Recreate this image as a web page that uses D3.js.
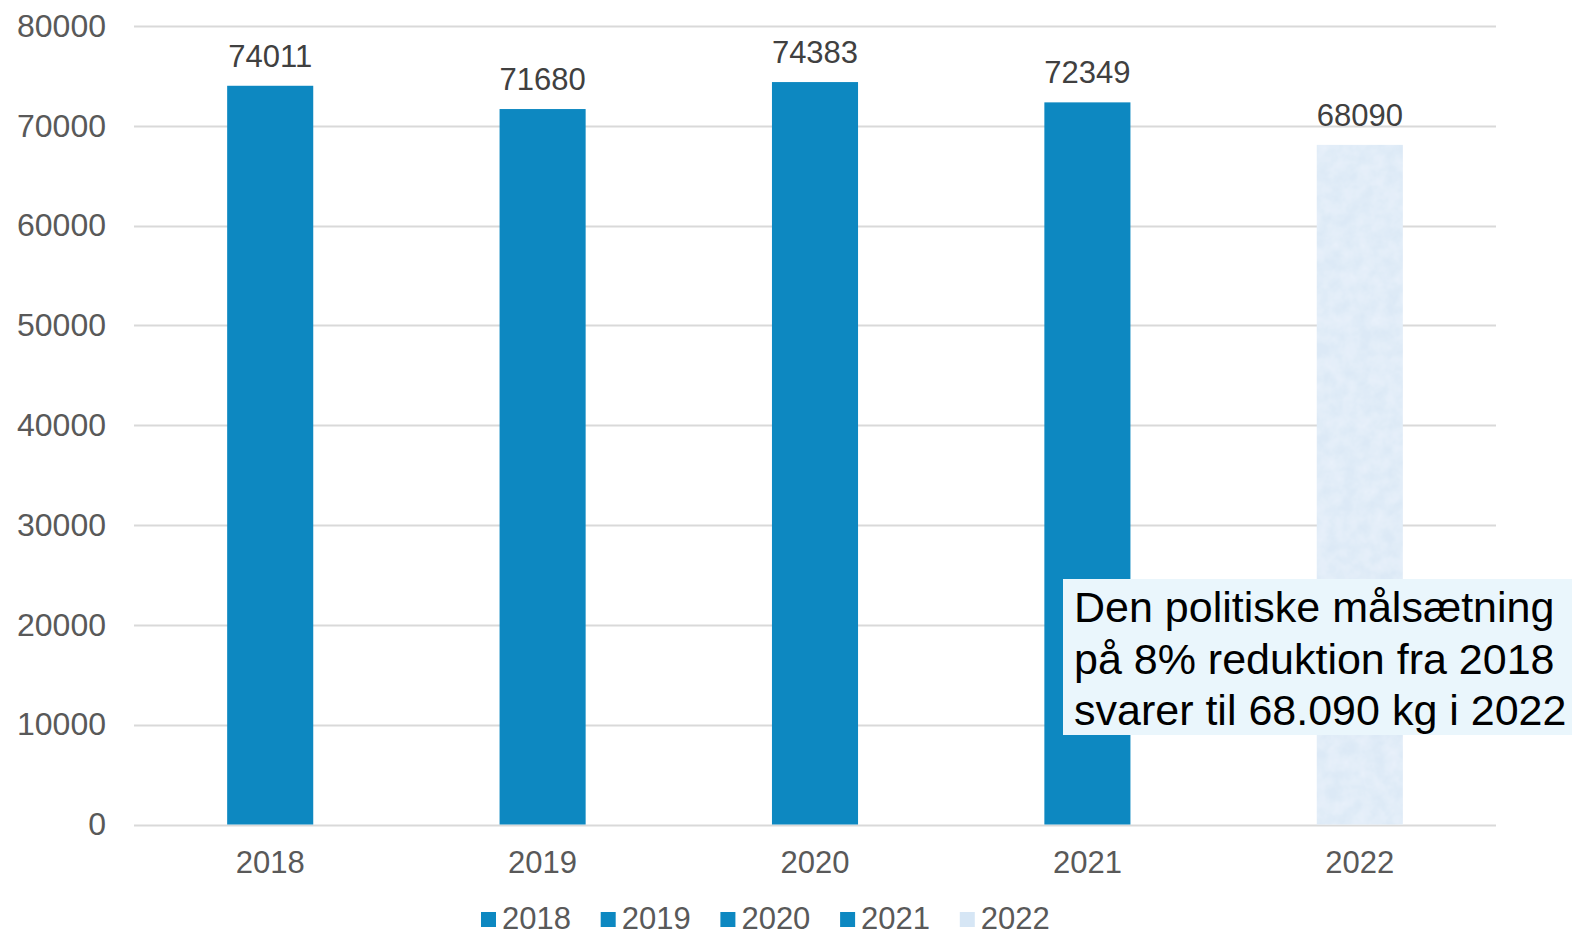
<!DOCTYPE html>
<html>
<head>
<meta charset="utf-8">
<script src="https://cdn.jsdelivr.net/npm/d3@7"></script>
<style>
  body { margin: 0; background: #fff; }
  svg { display: block; font-family: "Liberation Sans", Arial, sans-serif; }
</style>
</head>
<body>
<div id="chart"></div>
<script>
// data
const years = ["2018", "2019", "2020", "2021", "2022"];
const values = [74011, 71680, 74383, 72349, 68090];
const yTicks = [0, 10000, 20000, 30000, 40000, 50000, 60000, 70000, 80000];
const noteLines = ["Den politiske målsætning", "på 8% reduktion fra 2018", "svarer til 68.090 kg i 2022"];

const width = 1572, height = 934;
const margin = { top: 26, right: 76, bottom: 110, left: 134 };

const svg = d3.select("#chart").append("svg")
    .attr("width", width)
    .attr("height", height);

// texture for the 2022 bar
const defs = svg.append("defs");
const filt = defs.append("filter").attr("id", "tex")
    .attr("x", 0).attr("y", 0).attr("width", 1).attr("height", 1);
filt.append("feTurbulence").attr("type", "fractalNoise")
    .attr("baseFrequency", "0.07").attr("numOctaves", 3).attr("seed", 4).attr("result", "noise");
filt.append("feColorMatrix").attr("in", "noise").attr("type", "matrix")
    .attr("values", "0 0 0 0 0.84  0 0 0 0 0.90  0 0 0 0 0.97  1.1 0 0 0 -0.25")
    .attr("result", "col");
filt.append("feComposite").attr("in", "col").attr("in2", "SourceGraphic").attr("operator", "atop");

const x = d3.scaleBand()
    .domain(years)
    .range([margin.left, width - margin.right])
    .paddingInner(0.684)
    .paddingOuter(0.342);

const y = d3.scaleLinear()
    .domain([0, 80000])
    .range([824.5, margin.top]);

// gridlines
svg.append("g")
    .selectAll("line")
    .data(yTicks)
    .join("line")
    .attr("x1", margin.left)
    .attr("x2", width - margin.right)
    .attr("y1", d => Math.round(y(d)) + 0.5)
    .attr("y2", d => Math.round(y(d)) + 0.5)
    .attr("stroke", "#d9d9d9")
    .attr("stroke-width", 2);

// y axis labels
const yAxis = svg.append("g")
    .attr("transform", `translate(${margin.left},0)`)
    .call(d3.axisLeft(y).tickValues(yTicks).tickSize(0).tickPadding(28).tickFormat(d3.format("d")));
yAxis.select(".domain").remove();
yAxis.selectAll("text")
    .attr("fill", "#595959")
    .style("font-size", "32px")
    .style("font-family", "'Liberation Sans', Arial, sans-serif");

// x axis labels
const xAxis = svg.append("g")
    .attr("transform", `translate(0,${y(0)})`)
    .call(d3.axisBottom(x).tickSize(0).tickPadding(26));
xAxis.select(".domain").remove();
xAxis.selectAll("text")
    .attr("fill", "#595959")
    .style("font-size", "31px")
    .style("font-family", "'Liberation Sans', Arial, sans-serif");

// bars
svg.append("g")
    .selectAll("rect")
    .data(years)
    .join("rect")
    .attr("x", d => x(d))
    .attr("y", (d, i) => y(values[i]))
    .attr("width", x.bandwidth())
    .attr("height", (d, i) => y(0) - y(values[i]))
    .attr("fill", (d, i) => i === 4 ? "#dce9f6" : "#0d88c1")
    .attr("filter", (d, i) => i === 4 ? "url(#tex)" : null);

// value labels
svg.append("g")
    .selectAll("text")
    .data(years)
    .join("text")
    .attr("x", d => x(d) + x.bandwidth() / 2)
    .attr("y", (d, i) => y(values[i]) - 19)
    .attr("text-anchor", "middle")
    .attr("fill", "#404040")
    .style("font-size", "31px")
    .text((d, i) => values[i]);

// annotation box
const note = svg.append("g");
note.append("rect")
    .attr("x", 1063)
    .attr("y", 579)
    .attr("width", 520)
    .attr("height", 156)
    .attr("fill", "#eaf6fc");
note.selectAll("text")
    .data(noteLines)
    .join("text")
    .attr("x", 1074)
    .attr("y", (d, i) => 622 + i * 51.5)
    .attr("fill", "#000")
    .style("font-size", "43px")
    .text(d => d);

// legend
const legend = svg.append("g")
    .selectAll("g")
    .data(years)
    .join("g")
    .attr("transform", (d, i) => `translate(${481 + i * 119.7},0)`);
legend.append("rect")
    .attr("x", 0)
    .attr("y", 912)
    .attr("width", 15)
    .attr("height", 15)
    .attr("fill", (d, i) => i === 4 ? "#d6e6f5" : "#0d88c1");
legend.append("text")
    .attr("x", 21)
    .attr("y", 929)
    .attr("fill", "#595959")
    .style("font-size", "31px")
    .text(d => d);
</script>
</body>
</html>
